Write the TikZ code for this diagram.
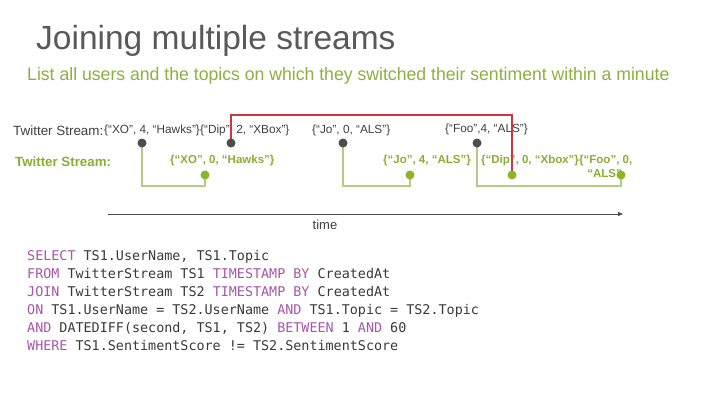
\documentclass[tikz,border=0pt]{standalone}
\usepackage{fontspec}
\setmainfont{Liberation Sans}
\newfontfamily\subfont[FakeStretch=0.98]{Liberation Sans}
\newfontfamily\codefont{DejaVu Sans Mono}
\usetikzlibrary{arrows.meta}
\pgfdeclarelayer{back}
\pgfdeclarelayer{bg}
\pgfdeclarelayer{dots}
\pgfsetlayers{back,bg,main,dots}
\definecolor{titlegray}{HTML}{595959}
\definecolor{textgray}{HTML}{404040}
\definecolor{subgreen}{HTML}{8DB03F}
\definecolor{boldgreen}{HTML}{8AAE34}
\definecolor{linegreen}{HTML}{B3CB86}
\definecolor{dotgreen}{HTML}{8DB52A}
\definecolor{dotgray}{HTML}{4D4D4D}
\definecolor{redline}{HTML}{D0343C}
\definecolor{kw}{HTML}{A855AC}
\definecolor{codegray}{HTML}{3A3A3A}
\newcommand{\kwd}[1]{\textcolor{kw}{#1}}
\tikzset{
  evgray/.style={circle,fill=dotgray,inner sep=0pt,minimum size=9pt},
  evgreen/.style={circle,fill=dotgreen,inner sep=0pt,minimum size=9pt},
  toplab/.style={text=textgray,font=\fontsize{11.8}{13}\selectfont,inner sep=0pt,anchor=west},
  grlab/.style={text=boldgreen,font=\bfseries\fontsize{11.5}{13}\selectfont,inner sep=0pt,anchor=west},
  glink/.style={draw=linegreen,line width=1.6pt},
  rlink/.style={draw=redline,line width=1.6pt},
  codeline/.style={text=codegray,font=\codefont\fontsize{13.4}{15}\selectfont,inner sep=0pt,anchor=base west},
}
\begin{document}
\begin{tikzpicture}[x=1pt,y=-1pt]
\begin{pgfonlayer}{back}
\fill[white] (0,0) rectangle (720,405);
\end{pgfonlayer}
\useasboundingbox (0,0) rectangle (720,405);
% title
\node[anchor=base west,inner sep=0pt,text=titlegray,font=\fontsize{33.5}{36}\selectfont] (title) at (36,49) {Joining multiple streams};
\node[anchor=base west,inner sep=0pt,text=subgreen,font=\subfont\fontsize{18}{20}\selectfont] (sub) at (27,80) {List all users and the topics on which they switched their sentiment within a minute};
% labels
\node[toplab,font=\fontsize{13.4}{15}\selectfont] (lab1) at (13,131) {Twitter Stream:};
\node[grlab,font=\bfseries\fontsize{13.3}{15}\selectfont] (lab2) at (15,162) {Twitter Stream:};
\node[toplab] (t1) at (104,130) {\{“XO”, 4, “Hawks”\}};
\node[toplab] (t2) at (200,130) {\{“Dip”, 2, “XBox”\}};
\node[toplab] (t3) at (312,130) {\{“Jo”, 0, “ALS”\}};
\node[toplab] (t4) at (445,129) {\{“Foo”,4, “ALS”\}};
\node[grlab] (g1) at (170,161) {\{“XO”, 0, “Hawks”\}};
\node[grlab] (g2) at (383,161) {\{“Jo”, 4, “ALS”\}};
\node[grlab] (g3) at (481,161) {\{“Dip”, 0, “Xbox”\}};
\node[grlab] (g4) at (579,161) {\{“Foo”, 0,};
\node[grlab,anchor=east] (g4b) at (622,174) {“ALS”};
\begin{pgfonlayer}{dots}
% gray events
\node[evgray] (a1) at (142,143) {};
\node[evgray] (a2) at (231,143) {};
\node[evgray] (a3) at (343,143) {};
\node[evgray] (a4) at (477,143) {};
% green events
\node[evgreen] (b1) at (205,175) {};
\node[evgreen] (b2) at (410,175) {};
\node[evgreen] (b3) at (512,175) {};
\node[evgreen] (b4) at (621,175) {};
\end{pgfonlayer}
% link corners
\coordinate (c1) at (142,186);
\coordinate (c2) at (343,186);
\coordinate (c3) at (477,186);
\coordinate (cr) at (231,115);
\begin{pgfonlayer}{bg}
\draw[glink] (a1.center) |- (c1 -| b1.center) -- (b1.center);
\draw[glink] (a3.center) |- (c2 -| b2.center) -- (b2.center);
\draw[glink] (a4.center) |- (c3 -| b4.center) -- (b4.center);
\end{pgfonlayer}
\draw[rlink] (a2.center) |- (cr -| b3.center) -- (b3.center);
% time axis
\coordinate (ax0) at (108,214);
\coordinate (ax1) at (623,214);
\draw[draw=dotgray,line width=1pt,-{Triangle[length=5pt,width=4pt]}] (ax0) -- (ax1);
\node[text=textgray,font=\fontsize{13}{15}\selectfont,inner sep=0pt] (time) at (325,225) {time};
% code
\node[codeline] (l1) at (27,260) {\kwd{SELECT} TS1.UserName, TS1.Topic};
\node[codeline] (l2) at (27,278) {\kwd{FROM} TwitterStream TS1 \kwd{TIMESTAMP} \kwd{BY} CreatedAt};
\node[codeline] (l3) at (27,296) {\kwd{JOIN} TwitterStream TS2 \kwd{TIMESTAMP} \kwd{BY} CreatedAt};
\node[codeline] (l4) at (27,314) {\kwd{ON} TS1.UserName = TS2.UserName \kwd{AND} TS1.Topic = TS2.Topic};
\node[codeline] (l5) at (27,332) {\kwd{AND} DATEDIFF(second, TS1, TS2) \kwd{BETWEEN} 1 \kwd{AND} 60};
\node[codeline] (l6) at (27,350) {\kwd{WHERE} TS1.SentimentScore != TS2.SentimentScore};
\end{tikzpicture}
\end{document}
